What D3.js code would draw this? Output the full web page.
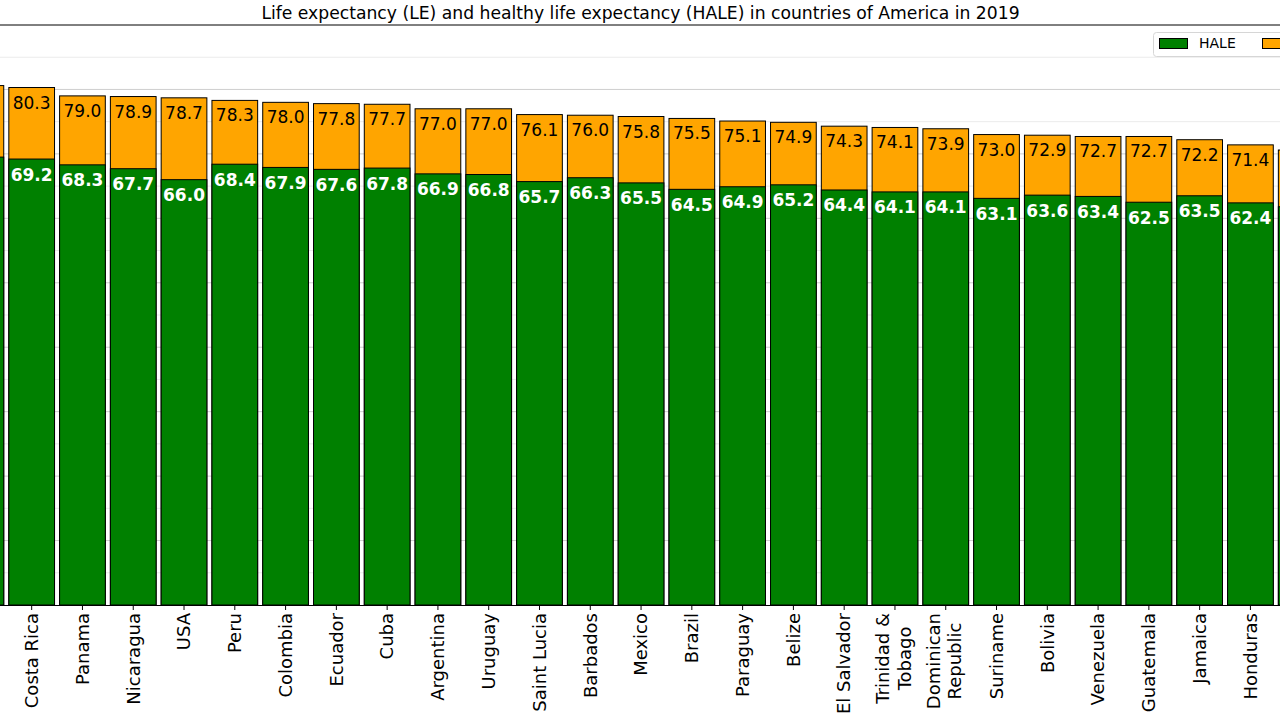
<!DOCTYPE html>
<html>
<head>
<meta charset="utf-8">
<script src="https://cdn.jsdelivr.net/npm/d3@7"></script>
<style>
  html, body { margin: 0; padding: 0; background: #fff; }
  svg { display: block; font-family: "DejaVu Sans", sans-serif; }
</style>
</head>
<body>
<svg id="chart" width="1280" height="720"></svg>
<script>
// ---- data ----
const categories = ["Chile", "Costa Rica", "Panama", "Nicaragua", "USA", "Peru", "Colombia", "Ecuador", "Cuba",
  "Argentina", "Uruguay", "Saint Lucia", "Barbados", "Mexico", "Brazil", "Paraguay", "Belize", "El Salvador",
  "Trinidad &\nTobago", "Dominican\nRepublic", "Suriname", "Bolivia", "Venezuela", "Guatemala", "Jamaica",
  "Honduras", "Bahamas"];
const leValues = [80.6, 80.3, 79.0, 78.9, 78.7, 78.3, 78.0, 77.8, 77.7, 77.0, 77.0, 76.1, 76.0, 75.8, 75.5,
  75.1, 74.9, 74.3, 74.1, 73.9, 73.0, 72.9, 72.7, 72.7, 72.2, 71.4, 70.6];
const haleValues = [69.5, 69.2, 68.3, 67.7, 66.0, 68.4, 67.9, 67.6, 67.8, 66.9, 66.8, 65.7, 66.3, 65.5, 64.5,
  64.9, 65.2, 64.4, 64.1, 64.1, 63.1, 63.6, 63.4, 62.5, 63.5, 62.4, 61.8];
const yTicks = [0, 5, 10, 15, 20, 25, 30, 35, 40, 45, 50, 55, 60, 65, 70, 75, 80, 85, 90];
const seriesNames = ["HALE", "LE"];
const seriesColors = ["#008000", "#FFA500"];
const titleText = "Life expectancy (LE) and healthy life expectancy (HALE) in countries of America in 2019";

const W = 1280;
const rows = categories.map((c, i) => ({ c, le: leValues[i], hale: haleValues[i] }));

const svg = d3.select("#chart");
const x = d3.scaleBand().domain(categories).range([-44.5, 1326.6]).paddingInner(0.1).paddingOuter(0.05);
const y = d3.scaleLinear().domain([0, 90]).range([605, 25]);

// only label bars that lie within the visible window
const inView = d => x(d.c) >= 0 && x(d.c) + x.bandwidth() <= W;
const labelRows = rows.filter(inView);

// gridlines
svg.append("g").selectAll("line").data(yTicks.filter(t => t > 0 && t < 90)).join("line")
  .attr("x1", 0).attr("x2", W)
  .attr("y1", d => y(d)).attr("y2", d => y(d))
  .attr("stroke", d => d % 10 === 0 ? "#cfcfcf" : "#ebebeb")
  .attr("stroke-width", 1);

// LE bars (behind)
svg.append("g").selectAll("rect").data(rows).join("rect")
  .attr("x", d => x(d.c)).attr("width", x.bandwidth())
  .attr("y", d => y(d.le)).attr("height", d => y(0) - y(d.le))
  .attr("fill", seriesColors[1]).attr("stroke", "#000").attr("stroke-width", 1);

// HALE bars (front)
svg.append("g").selectAll("rect").data(rows).join("rect")
  .attr("x", d => x(d.c)).attr("width", x.bandwidth())
  .attr("y", d => y(d.hale)).attr("height", d => y(0) - y(d.hale))
  .attr("fill", seriesColors[0]).attr("stroke", "#000").attr("stroke-width", 1);

// value labels
svg.append("g").selectAll("text").data(labelRows).join("text")
  .attr("x", d => x(d.c) + x.bandwidth() / 2)
  .attr("y", d => y(d.le) + 21)
  .attr("text-anchor", "middle").attr("font-size", 17).attr("fill", "#000")
  .text(d => d.le.toFixed(1));
svg.append("g").selectAll("text").data(labelRows).join("text")
  .attr("x", d => x(d.c) + x.bandwidth() / 2)
  .attr("y", d => y(d.hale) + 21.5)
  .attr("text-anchor", "middle").attr("font-size", 17).attr("font-weight", "bold").attr("fill", "#fff")
  .text(d => d.hale.toFixed(1));

// top spine
svg.append("line").attr("x1", 0).attr("x2", W).attr("y1", y(90)).attr("y2", y(90))
  .attr("stroke", "#000").attr("stroke-width", 1);

// x axis
const xAxis = svg.append("g").attr("transform", `translate(0,${y(0)})`)
  .call(d3.axisBottom(x).tickValues(labelRows.map(d => d.c)).tickSize(5).tickSizeOuter(0));
xAxis.select(".domain").attr("stroke", "#000").attr("d", `M0,0.5H${W}`);
xAxis.selectAll(".tick line").attr("stroke", "#000");
xAxis.selectAll(".tick text").each(function(d) {
  const t = d3.select(this);
  t.text(null).attr("fill", "#000").attr("font-size", 18).attr("font-family", "DejaVu Sans")
    .attr("transform", "rotate(-90)").attr("y", 0).attr("dy", null);
  const lines = d.split("\n");
  if (lines.length === 1) {
    t.attr("text-anchor", "end").attr("x", -8)
      .append("tspan").attr("x", -8).attr("y", 0).attr("dy", "0.35em").text(lines[0]);
  } else {
    const tmp = t.append("tspan");
    let maxW = 0;
    lines.forEach(l => { tmp.text(l); maxW = Math.max(maxW, tmp.node().getComputedTextLength()); });
    tmp.remove();
    const cx = -8 - maxW / 2;
    t.attr("text-anchor", "middle");
    lines.forEach((l, i) => {
      t.append("tspan").attr("x", cx).attr("y", (i - (lines.length - 1) / 2) * 21.6 - 1.5)
        .attr("dy", "0.35em").text(l);
    });
  }
});

// title
svg.append("text").attr("x", 640.5).attr("y", 19).attr("text-anchor", "middle")
  .attr("font-size", 17.2).attr("fill", "#000").text(titleText);

// legend (extends past the right edge, as in the reference crop)
const lg = svg.append("g");
lg.append("rect").attr("x", 1153.5).attr("y", 32.5).attr("width", 190).attr("height", 24)
  .attr("rx", 3).attr("fill", "#fff").attr("fill-opacity", 0.8).attr("stroke", "#d6d6d6");
seriesNames.forEach((n, i) => {
  const gx = 1159 + i * 103;
  lg.append("rect").attr("x", gx + 0.5).attr("y", 38.5).attr("width", 28).attr("height", 10)
    .attr("fill", seriesColors[i]).attr("stroke", "#000").attr("stroke-width", 1);
  if (gx + 40 < W) {
    lg.append("text").attr("x", gx + 40).attr("y", 48).attr("font-size", 14).attr("fill", "#000").text(n);
  }
});
</script>
</body>
</html>
